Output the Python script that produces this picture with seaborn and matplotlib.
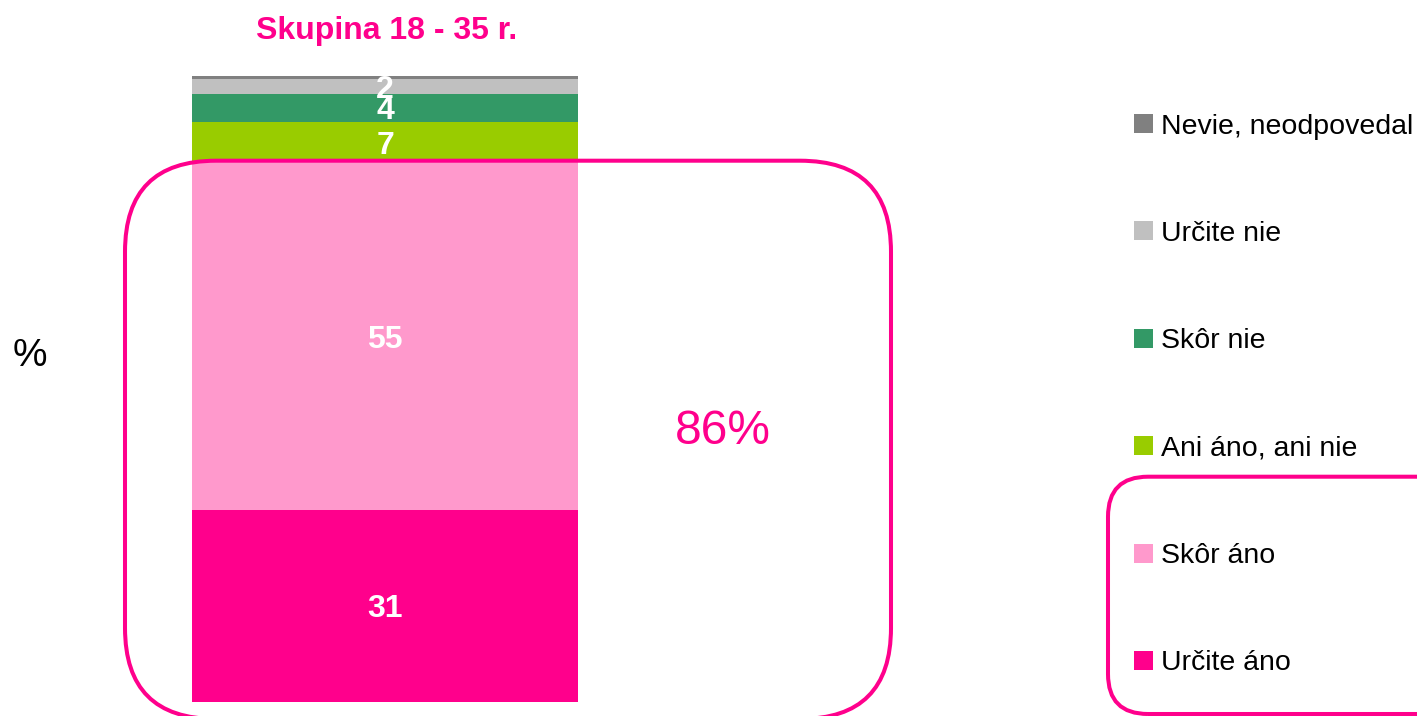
import numpy as np
import matplotlib
matplotlib.use("Agg")
import matplotlib.pyplot as plt
import matplotlib.transforms as mtransforms
from matplotlib.patches import FancyBboxPatch, Rectangle
import seaborn as sns

# ===============================
# DATA
# ===============================
categories = ["Určite áno", "Skôr áno", "Ani áno, ani nie", "Skôr nie", "Určite nie", "Nevie, neodpovedal"]
shares = [30.6, 55.6, 6.4, 4.6, 2.3, 0.5]          # % of group, bottom -> top
shown_labels = ["31", "55", "7", "4", "2", ""]      # labels printed on the bar
colors = ["#FF008C", "#FF99CC", "#99CC00", "#339966", "#C0C0C0", "#808080"]
title = "Skupina 18 - 35 r."
top2box = "86%"

MAGENTA = "#FF008C"
W, H = 1417, 716

# ===============================
# STYLE
# ===============================
sns.set_style("white")
plt.rcParams["font.family"] = ["Liberation Sans", "DejaVu Sans"]

fig = plt.figure(figsize=(W / 100, H / 100), dpi=100)
# pixel coordinates (origin bottom-left) -> display
px = mtransforms.Affine2D().scale(1 / 100) + fig.dpi_scale_trans

ax = fig.add_axes([192 / W, 14.3 / H, 386 / W, 625.7 / H])

# ===============================
# STACKED BAR
# ===============================
bottom = 0.0
for cat, val, col, lab in zip(categories, shares, colors, shown_labels):
    sns.barplot(x=[0], y=[val], bottom=bottom, color=col, width=1.0,
                saturation=1, linewidth=0, ax=ax)
    if lab:
        ax.text(0, bottom + val / 2, lab, ha="center", va="center_baseline",
                color="white", fontsize=23, fontweight="bold")
    bottom += val

ax.set_xlim(-0.5, 0.5)
ax.set_ylim(0, 100)
ax.axis("off")

# ===============================
# TEXTS
# ===============================
fig.text(386.5 / W, 1 - 27 / H, title, ha="center", va="center_baseline",
         color=MAGENTA, fontsize=23, fontweight="bold")
fig.text(30 / W, 1 - 352 / H, "%", ha="center", va="center_baseline",
         color="black", fontsize=28)
fig.text(723 / W, 1 - 427 / H, top2box, ha="center", va="center_baseline",
         color=MAGENTA, fontsize=34.5)

# ===============================
# LEGEND (manual, top row = last category)
# ===============================
for i, (cat, col) in enumerate(zip(categories, colors)):
    yc = 660.5 - 107.4 * i
    fig.add_artist(Rectangle((1134, H - yc - 9.5), 19, 19, facecolor=col,
                             edgecolor="none", transform=px))
    fig.text(1161 / W, 1 - yc / H, cat, ha="left", va="center_baseline",
             color="black", fontsize=20.5)

# ===============================
# ROUNDED HIGHLIGHT BOXES
# ===============================
big = FancyBboxPatch((125, H - 719), 891 - 125, 719 - 160.7,
                     boxstyle="round,pad=0,rounding_size=91",
                     facecolor="none", edgecolor=MAGENTA, linewidth=2.9,
                     transform=px, zorder=5)
fig.add_artist(big)
leg = FancyBboxPatch((1108, H - 714), 1500 - 1108, 714 - 476.7,
                     boxstyle="round,pad=0,rounding_size=40",
                     facecolor="none", edgecolor=MAGENTA, linewidth=2.9,
                     transform=px, zorder=5)
fig.add_artist(leg)

fig.savefig("out.png", dpi=100)
